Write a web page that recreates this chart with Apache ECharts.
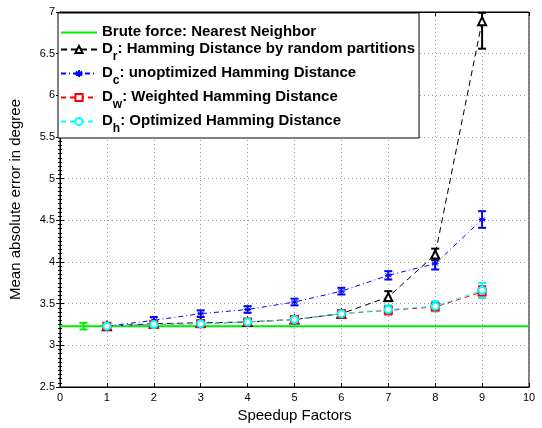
<!DOCTYPE html>
<html><head><meta charset="utf-8">
<script src="https://cdn.jsdelivr.net/npm/echarts@6/dist/echarts.min.js"></script>
<style>html,body{margin:0;padding:0;background:#fff}#c{width:542px;height:428px}</style>
</head><body><div id="c"></div>
<script>
var xs = [1,2,3,4,5,6,7,8,9];
var bruteValue = 3.23;
var bruteX = 0.5;
var bruteErr = 0.04;
var dr = [3.23,3.26,3.27,3.28,3.31,3.38,3.58,4.09,6.89];
var drErrLo = [0.03,0.03,0.03,0.03,0.03,0.04,0.05,0.07,0.33];
var drErrHi = [0.03,0.03,0.03,0.03,0.03,0.04,0.07,0.07,0.10];
var dc = [3.23,3.30,3.38,3.43,3.52,3.65,3.84,3.98,4.51];
var dcErr = [0.03,0.04,0.04,0.04,0.04,0.04,0.05,0.07,0.10];
var dw = [3.23,3.25,3.26,3.28,3.31,3.38,3.42,3.46,3.64];
var dwErr = [0.03,0.03,0.03,0.03,0.03,0.04,0.05,0.05,0.07];
var dh = [3.23,3.25,3.26,3.28,3.31,3.38,3.43,3.47,3.66];
var dhErr = [0.03,0.03,0.03,0.03,0.03,0.04,0.05,0.06,0.09];
var xTicks = {min:0, max:10, interval:1};
var yTicks = {min:2.5, max:7, interval:0.5};
var names = ['Brute force: Nearest Neighbor','D_r: Hamming Distance by random partitions','D_c: unoptimized Hamming Distance','D_w: Weighted Hamming Distance','D_h: Optimized Hamming Distance'];

function pts(v){ return xs.map(function(x,i){return [x,v[i]];}); }
function errData(v,lo,hi){ return xs.map(function(x,i){return [x, v[i]-lo[i], v[i]+(hi||lo)[i]];}); }
function errSeries(data,color){
  return {type:'custom', silent:true, z:3, data:data, encode:{x:0,y:[1,2]},
    renderItem:function(params,api){
      var x=api.value(0), lo=api.coord([x,api.value(1)]), hi=api.coord([x,api.value(2)]);
      var w=4, st={stroke:color,lineWidth:2};
      return {type:'group',children:[
        {type:'line',shape:{x1:lo[0],y1:lo[1],x2:hi[0],y2:hi[1]},style:st},
        {type:'line',shape:{x1:lo[0]-w,y1:lo[1],x2:lo[0]+w,y2:lo[1]},style:st},
        {type:'line',shape:{x1:hi[0]-w,y1:hi[1],x2:hi[0]+w,y2:hi[1]},style:st}
      ]};
    }};
}
var star='path://M0,-5L0,5M-4.33,-2.5L4.33,2.5M-4.33,2.5L4.33,-2.5M-5,0L5,0';
var chart = echarts.init(document.getElementById('c'));
var gridLine={show:true,lineStyle:{color:'#999',type:[1,3],width:1}};
chart.setOption({
  animation:false,
  textStyle:{fontFamily:'Liberation Sans, Arial, sans-serif'},
  grid:{left:59,right:13,top:12,bottom:37,show:true,borderColor:'#000',borderWidth:1},
  xAxis:[{type:'value',min:xTicks.min,max:xTicks.max,interval:xTicks.interval,
    name:'Speedup Factors',nameLocation:'middle',nameGap:21,nameTextStyle:{fontSize:15,color:'#000'},
    axisLine:{onZero:false,lineStyle:{color:'#000'}},axisTick:{inside:true,length:4,lineStyle:{color:'#000'}},
    axisLabel:{color:'#000',fontSize:11,margin:5},splitLine:gridLine},
    {type:'value',position:'top',min:xTicks.min,max:xTicks.max,interval:xTicks.interval,
    axisLine:{lineStyle:{color:'#000'}},axisTick:{inside:true,length:4,lineStyle:{color:'#000'}},axisLabel:{show:false},splitLine:{show:false}}],
  yAxis:[{type:'value',min:yTicks.min,max:yTicks.max,interval:yTicks.interval,
    name:'Mean absolute error in degree',nameLocation:'middle',nameGap:37,nameTextStyle:{fontSize:15,color:'#000'},
    axisLine:{onZero:false,lineStyle:{color:'#000'}},axisTick:{inside:true,length:4,lineStyle:{color:'#000'}},
    minorTick:{show:true,splitNumber:10,length:2,lineStyle:{color:'#000'}},
    axisLabel:{color:'#000',fontSize:11,margin:5},splitLine:gridLine},
    {type:'value',position:'right',min:yTicks.min,max:yTicks.max,interval:yTicks.interval,
    axisLine:{lineStyle:{color:'#000'}},axisTick:{inside:true,length:4,lineStyle:{color:'#000'}},
    minorTick:{show:true,splitNumber:10,length:2,lineStyle:{color:'#000'}},axisLabel:{show:false},splitLine:{show:false}}],
  legend:{orient:'vertical',left:58,top:13,padding:[11,4,3,2],itemGap:2,itemWidth:36,itemHeight:9,
    backgroundColor:'#fff',borderColor:'#000',borderWidth:1,
    data:[{name:names[0],itemStyle:{opacity:0}},names[1],names[2],names[3],names[4]],
    formatter:function(n){
      var i=n.indexOf('_');
      if(i<0) return '{b|'+n+'}';
      return '{b|'+n.slice(0,i)+'}{s|'+n.charAt(i+1)+'}{b|'+n.slice(i+2)+'}';
    },
    textStyle:{color:'#000',rich:{
      b:{fontSize:15,fontWeight:'bold',color:'#000',fontFamily:'Liberation Sans, Arial',verticalAlign:'top',lineHeight:17},
      s:{fontSize:12,fontWeight:'bold',color:'#000',fontFamily:'Liberation Sans, Arial',verticalAlign:'top',lineHeight:17,padding:[10,0,0,0]}
    }}},
  series:[
    {name:names[0],type:'line',data:[[xTicks.min,bruteValue],[xTicks.max,bruteValue]],showSymbol:false,symbol:'none',
     lineStyle:{color:'#00ee00',width:2},itemStyle:{color:'#00ee00'},z:2},
    errSeries([[bruteX,bruteValue-bruteErr,bruteValue+bruteErr]],'#00ee00'),
    errSeries(errData(dr,drErrLo,drErrHi),'#000'),
    {name:names[1],type:'line',data:pts(dr),symbol:'emptyTriangle',symbolSize:8,
     lineStyle:{color:'#000',width:1,type:[6,4]},itemStyle:{color:'#000',borderWidth:1},z:4},
    errSeries(errData(dc,dcErr),'#0000ff'),
    {name:names[2],type:'line',data:pts(dc),symbol:star,symbolSize:7,
     lineStyle:{color:'#0000ff',width:1,type:[5,3,1,3]},itemStyle:{color:'#0000ff',borderColor:'#0000ff',borderWidth:1},z:4},
    errSeries(errData(dw,dwErr),'#ff0000'),
    {name:names[3],type:'line',data:pts(dw),symbol:'emptyRect',symbolSize:7,
     lineStyle:{color:'#ff0000',width:1,type:[5,4]},itemStyle:{color:'#ff0000',borderWidth:1},z:4},
    errSeries(errData(dh,dhErr),'#00ffff'),
    {name:names[4],type:'line',data:pts(dh),symbol:'emptyCircle',symbolSize:7,
     lineStyle:{color:'#00ffff',width:1,type:[5,4]},itemStyle:{color:'#00ffff',borderWidth:1},z:4}
  ]
});
</script></body></html>
